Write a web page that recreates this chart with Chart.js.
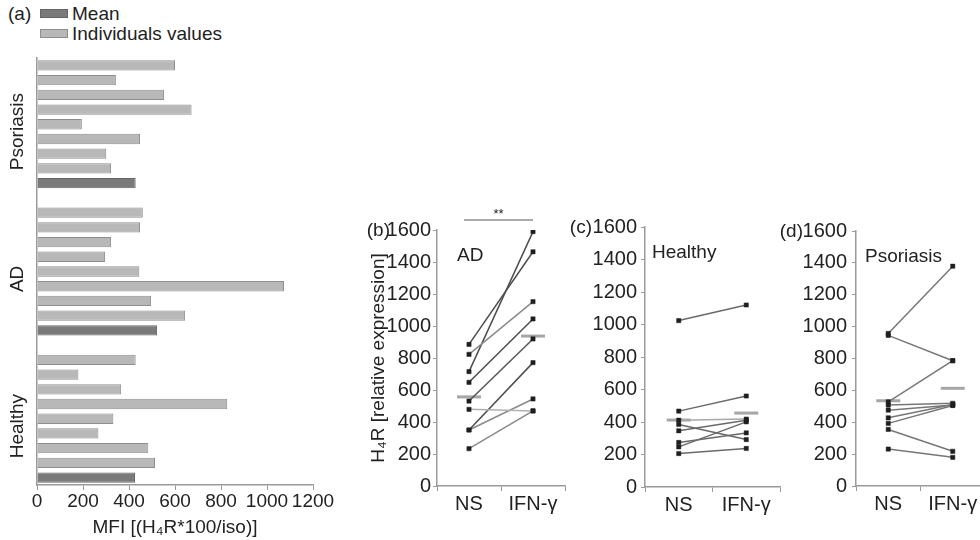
<!DOCTYPE html>
<html>
<head>
<meta charset="utf-8">
<script src="https://cdn.jsdelivr.net/npm/chart.js@4.4.1/dist/chart.umd.min.js"></script>
<style>
  html, body { margin: 0; padding: 0; background: #fff; }
  #page { position: relative; width: 980px; height: 540px; overflow: hidden;
          font-family: "Liberation Sans", Arial, sans-serif; color: #222; }
  canvas { position: absolute; }
  .leg { position: absolute; font-size: 19px; line-height: 20px; white-space: nowrap; }
  .leg .box { display: inline-block; width: 28px; height: 9px; margin-right: 4px;
              vertical-align: middle; box-sizing: border-box; border: 1px solid; position: relative; top: -1px; }
</style>
</head>
<body>
<div id="page">
  <div class="leg" style="left:8px;top:4px">(a)</div>
  <div id="legendA"></div>
  <canvas id="chartA" width="340" height="540" style="left:0;top:0;width:340px;height:540px"></canvas>
  <canvas id="chartB" width="230" height="340" style="left:350px;top:200px;width:230px;height:340px"></canvas>
  <canvas id="chartC" width="235" height="340" style="left:560px;top:200px;width:235px;height:340px"></canvas>
  <canvas id="chartD" width="230" height="340" style="left:770px;top:200px;width:230px;height:340px"></canvas>
</div>
<script>
// (a) MFI per donor, top to bottom inside each group
const groupNames = ['Psoriasis', 'AD', 'Healthy'];
const psoriasisValues = [600, 343, 552, 672, 195, 448, 301, 322];
const adValues = [460, 448, 322, 296, 445, 1074, 496, 644];
const healthyValues = [429, 180, 366, 827, 332, 267, 484, 513];
const groupMeans = [429, 522, 426];

// (b)-(d) H4R relative expression, NS vs IFN-gamma
const conditions = ['NS', 'IFN-\u03b3'];
const adNS = [885, 823, 715, 648, 531, 479, 350, 350, 233];
const adIFN = [1464, 1152, 1590, 1044, 919, 469, 771, 544, 469];
const adMean = [557, 937];
const healthyNS = [1024, 467, 411, 385, 346, 274, 247, 206];
const healthyIFN = [1120, 560, 418, 292, 411, 333, 401, 237];
const healthyMean = [412, 455];
const psoriasisNS = [957, 945, 528, 508, 476, 428, 393, 355, 232];
const psoriasisIFN = [1379, 786, 786, 519, 508, 512, 505, 218, 180];
const psoriasisMean = [535, 613];

const FONT = '"Liberation Sans", Arial, sans-serif';
const AXIS = '#9a9a9a';
const TEXT = '#222';

// line tones per donor (style only)
const adTones = ['#4d4d4d', '#8a8a8a', '#4d4d4d', '#4d4d4d', '#555555', '#b0b0b0', '#4d4d4d', '#8a8a8a', '#8a8a8a'];
const healthyTones = ['#6a6a6a', '#6a6a6a', '#a8a8a8', '#6a6a6a', '#6a6a6a', '#6a6a6a', '#6a6a6a', '#6a6a6a'];
const psoriasisTones = ['#777', '#777', '#777', '#777', '#777', '#777', '#777', '#777', '#777'];

Chart.defaults.font.family = FONT;

// ---- (a) build the 29 slots: 8 donors + mean per group, one empty slot between groups
const groups = [psoriasisValues, adValues, healthyValues];
const slotLabels = [], individualData = [], meanData = [], groupStart = [];
groups.forEach((vals, g) => {
    if (g > 0) {
        slotLabels.push('gap ' + g);
        individualData.push(null);
        meanData.push(null);
    }
    groupStart.push(slotLabels.length);
    vals.forEach((v, i) => {
        slotLabels.push(groupNames[g] + ' ' + (i + 1));
        individualData.push(v);
        meanData.push(null);
    });
    slotLabels.push(groupNames[g] + ' mean');
    individualData.push(null);
    meanData.push(groupMeans[g]);
});

const groupLabels = {
    id: 'groupLabels',
    afterDraw(chart) {
        const { ctx, scales: { y } } = chart;
        ctx.save();
        ctx.font = '19px ' + FONT;
        ctx.fillStyle = TEXT;
        ctx.textAlign = 'center';
        ctx.textBaseline = 'middle';
        groupNames.forEach((name, g) => {
            const py = y.getPixelForValue(groupStart[g] + 4.5);
            ctx.save();
            ctx.translate(18, py);
            ctx.rotate(-Math.PI / 2);
            ctx.fillText(name, 0, 0);
            ctx.restore();
        });
        ctx.restore();
    }
};

const chartA = new Chart(document.getElementById('chartA'), {
    type: 'bar',
    data: {
        labels: slotLabels,
        datasets: [
            {
                label: 'Mean',
                data: meanData,
                backgroundColor: '#7a7a7a',
                borderColor: '#666666',
                borderWidth: 1,
                grouped: false,
                barPercentage: 0.7,
                categoryPercentage: 1
            },
            {
                label: 'Individuals values',
                data: individualData,
                backgroundColor: '#b8b8b8',
                borderColor: '#8e8e8e',
                borderWidth: 1,
                grouped: false,
                barPercentage: 0.7,
                categoryPercentage: 1
            }
        ]
    },
    options: {
        indexAxis: 'y',
        responsive: false,
        animation: false,
        layout: { padding: { top: 58, right: 27, left: 0, bottom: 0 } },
        plugins: { legend: { display: false }, tooltip: { enabled: false } },
        scales: {
            x: {
                min: 0, max: 1200,
                ticks: { stepSize: 200, color: TEXT, font: { size: 19 }, padding: 0,
                         maxRotation: 0, minRotation: 0, autoSkip: false,
                         format: { useGrouping: false } },
                grid: { drawOnChartArea: false, tickLength: 5, color: AXIS },
                border: { color: AXIS, width: 1.5 },
                title: { display: true, text: 'MFI [(H\u2084R*100/iso)]', color: TEXT,
                         font: { size: 19 }, padding: { top: 0, bottom: 1 } },
                afterFit: s => { s.height = 55; }
            },
            y: {
                ticks: { display: false },
                grid: { display: false },
                border: { color: AXIS, width: 1.5 },
                afterFit: s => { s.width = 37; }
            }
        }
    },
    plugins: [groupLabels]
});

// legend of (a), built from the chart's datasets
const legendEl = document.getElementById('legendA');
chartA.data.datasets.forEach((ds, i) => {
    const row = document.createElement('div');
    row.className = 'leg';
    row.style.left = '40px';
    row.style.top = (4 + i * 20) + 'px';
    row.innerHTML = '<span class="box" style="background:' + ds.backgroundColor +
        ';border-color:' + ds.borderColor + '"></span>' + ds.label;
    legendEl.appendChild(row);
});

// ---- (b)-(d) paired plots
const panelText = {
    id: 'panelText',
    afterDraw(chart, args, o) {
        const { ctx, chartArea, scales: { x, y } } = chart;
        ctx.save();
        ctx.fillStyle = TEXT;
        ctx.textBaseline = 'middle';
        ctx.font = '19px ' + FONT;
        ctx.textAlign = 'right';
        ctx.fillText(o.panel, chartArea.left - o.letterGap, y.getPixelForValue(1600) + 1);
        ctx.textAlign = 'left';
        ctx.fillText(o.group, chartArea.left + o.groupGap, chartArea.top + 26);
        if (o.sig) {
            const x0 = x.getPixelForValue(0) - 5, x1 = x.getPixelForValue(1);
            const sy = chartArea.top - 10;
            ctx.strokeStyle = '#555';
            ctx.lineWidth = 1;
            ctx.beginPath();
            ctx.moveTo(x0, sy);
            ctx.lineTo(x1, sy);
            ctx.stroke();
            ctx.font = '13px ' + FONT;
            ctx.textAlign = 'center';
            ctx.fillText(o.sig, (x0 + x1) / 2, sy - 6);
        }
        ctx.restore();
    }
};

function pairChart(canvasId, nsVals, ifnVals, meanVals, tones, text, frame) {
    const datasets = nsVals.map((v, i) => ({
        label: text.group + ' ' + (i + 1),
        data: [v, ifnVals[i]],
        borderColor: tones[i],
        borderWidth: 1.5,
        pointStyle: 'rect',
        pointRadius: 3,
        pointBackgroundColor: '#1e1e1e',
        pointBorderColor: '#1e1e1e',
        pointBorderWidth: 0.5,
        order: 1
    }));
    datasets.push({
        label: 'mean',
        data: meanVals,
        showLine: false,
        pointStyle: 'line',
        pointRadius: 12,
        pointBorderColor: '#a6a6a6',
        pointBorderWidth: 3,
        order: 2
    });
    return new Chart(document.getElementById(canvasId), {
        type: 'line',
        data: { labels: conditions, datasets: datasets },
        options: {
            responsive: false,
            animation: false,
            layout: { padding: frame.padding },
            plugins: { legend: { display: false }, tooltip: { enabled: false }, panelText: text },
            scales: {
                x: {
                    offset: true,
                    ticks: { color: TEXT, font: { size: 20 }, padding: 1, maxRotation: 0 },
                    grid: { offset: true, drawOnChartArea: false, tickLength: 5, color: AXIS },
                    border: { color: AXIS, width: 1.5 },
                    afterFit: s => { s.height = frame.xHeight; }
                },
                y: {
                    min: 0, max: 1600,
                    ticks: { stepSize: 200, color: TEXT, font: { size: 20 }, padding: frame.tickPad,
                             format: { useGrouping: false } },
                    grid: { drawOnChartArea: false, tickLength: 4, color: AXIS },
                    border: { color: AXIS, width: 1.5 },
                    title: { display: !!frame.yTitle, text: frame.yTitle || '', color: TEXT, font: { size: 19 } },
                    afterFit: s => { s.width = frame.yWidth; }
                }
            }
        },
        plugins: [panelText]
    });
}

pairChart('chartB', adNS, adIFN, adMean, adTones,
    { panel: '(b)', group: 'AD', letterGap: 47, groupGap: 20, sig: '**' },
    { padding: { top: 30, left: 13, right: 2, bottom: 0 }, yWidth: 74, xHeight: 54, tickPad: 2,
      yTitle: 'H\u2084R [relative expression]' });

pairChart('chartC', healthyNS, healthyIFN, healthyMean, healthyTones,
    { panel: '(c)', group: 'Healthy', letterGap: 53, groupGap: 7 },
    { padding: { top: 27, left: 0, right: 4, bottom: 0 }, yWidth: 85, xHeight: 53, tickPad: 4 });

pairChart('chartD', psoriasisNS, psoriasisIFN, psoriasisMean, psoriasisTones,
    { panel: '(d)', group: 'Psoriasis', letterGap: 53, groupGap: 9 },
    { padding: { top: 31, left: 0, right: 6, bottom: 0 }, yWidth: 86, xHeight: 54, tickPad: 5 });
</script>
</body>
</html>
